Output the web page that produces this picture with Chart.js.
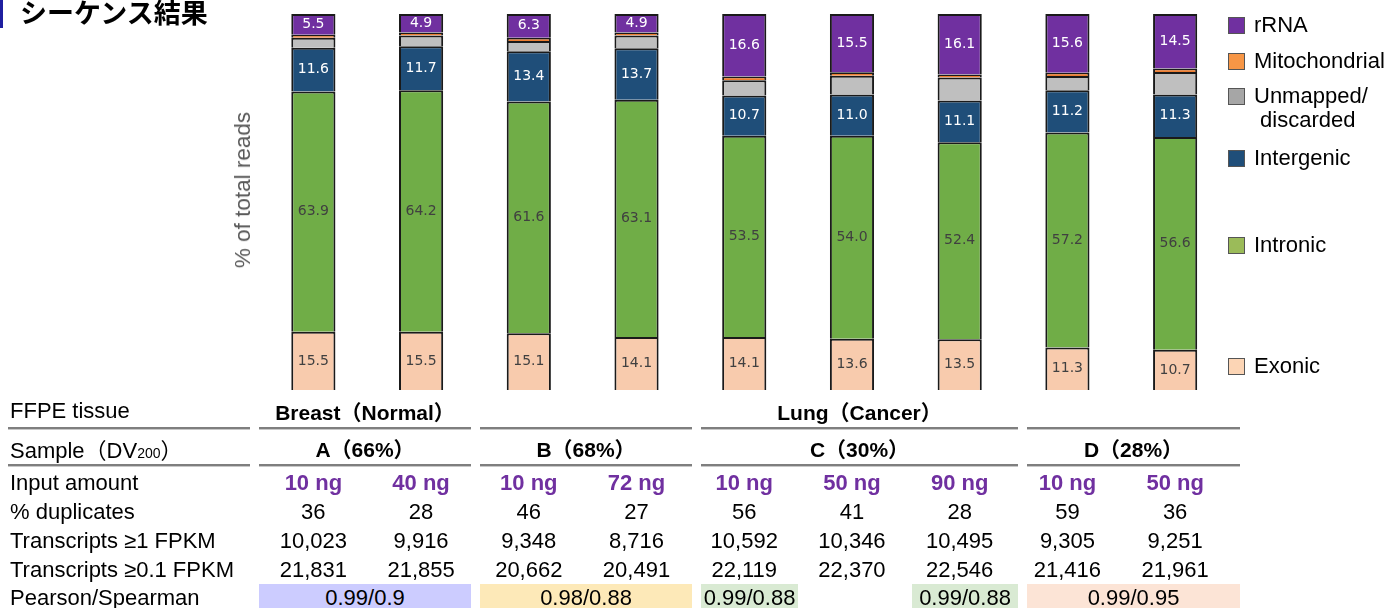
<!DOCTYPE html>
<html>
<head>
<meta charset="utf-8">
<script src="https://cdn.jsdelivr.net/npm/chart.js@4.4.1/dist/chart.umd.min.js"></script>
<style>
  html, body { margin: 0; padding: 0; background: #fff; }
  #wrap { position: relative; width: 1390px; height: 608px; overflow: hidden; font-family: "Liberation Sans", Arial, "Noto Sans CJK JP", sans-serif; }
  #chart { position: absolute; left: 0; top: 0; }
  .t { position: absolute; white-space: nowrap; transform: translate(-50%, -50%); font-size: 22px; color: #000; }
  .l { position: absolute; white-space: nowrap; transform: translateY(-50%); font-size: 22px; color: #000; }
  .b { font-weight: bold; font-size: 21px; }
  .ng { font-weight: bold; color: #7030a0; }
  .line { position: absolute; height: 2px; background: #7f7f7f; border-bottom: 1px solid #c8c8c8; }
  .cell { position: absolute; }
  .sq { position: absolute; width: 15px; height: 15px; border: 1px solid #555; }
</style>
</head>
<body>
<div id="wrap">
  <canvas id="chart" width="1390" height="608"></canvas>
</div>
<script>
// ---- data ----
const samples = ['A 10 ng', 'A 40 ng', 'B 10 ng', 'B 72 ng', 'C 10 ng', 'C 50 ng', 'C 90 ng', 'D 10 ng', 'D 50 ng'];
const exonic       = [15.5, 15.5, 15.1, 14.1, 14.1, 13.6, 13.5, 11.3, 10.7];
const intronic     = [63.9, 64.2, 61.6, 63.1, 53.5, 54.0, 52.4, 57.2, 56.6];
const intergenic   = [11.6, 11.7, 13.4, 13.7, 10.7, 11.0, 11.1, 11.2, 11.3];
const unmapped     = [2.7, 2.9, 2.7, 3.4, 4.1, 5.0, 6.1, 3.8, 6.0];
const mitochondrial = [0.8, 0.8, 0.9, 0.8, 1.0, 0.9, 0.8, 0.9, 0.9];
const rrna         = [5.5, 4.9, 6.3, 4.9, 16.6, 15.5, 16.1, 15.6, 14.5];

const inputAmount  = ['10 ng', '40 ng', '10 ng', '72 ng', '10 ng', '50 ng', '90 ng', '10 ng', '50 ng'];
const duplicates   = ['36', '28', '46', '27', '56', '41', '28', '59', '36'];
const transcripts1 = ['10,023', '9,916', '9,348', '8,716', '10,592', '10,346', '10,495', '9,305', '9,251'];
const transcripts01 = ['21,831', '21,855', '20,662', '20,491', '22,119', '22,370', '22,546', '21,416', '21,961'];
const sampleGroups = ['A（66%）', 'B（68%）', 'C（30%）', 'D（28%）'];
const tissueGroups = ['Breast（Normal）', '', 'Lung（Cancer）', ''];
const pearson      = ['0.99/0.9', '0.98/0.88', '0.99/0.88', '', '0.99/0.88', '0.99/0.95'];
const rowLabels    = ['FFPE tissue', 'Sample（DV<span style="font-size:14px">200</span>）', 'Input amount', '% duplicates', 'Transcripts ≥1 FPKM', 'Transcripts ≥0.1 FPKM', 'Pearson/Spearman'];

// ---- layout / style ----
const groupBox = [[259, 471], [480, 692], [701, 1018], [1027, 1240]];
const pearsonBox = [[259, 471], [480, 692], [701, 798], [798, 912], [912, 1018], [1027, 1240]];
const pearsonColors = ['#ccccff', '#fde9b8', '#d9ead3', 'transparent', '#d9ead3', '#fce4d6'];
const rowY = [411, 448, 483, 512, 541, 570, 598];

const labelPlugin = {
  id: 'segLabels',
  afterDatasetsDraw(chart) {
    const ctx = chart.ctx;
    ctx.save();
    ctx.font = '14px "DejaVu Sans"';
    ctx.textAlign = 'center';
    ctx.textBaseline = 'middle';
    chart.data.datasets.forEach((ds, i) => {
      if (!ds.labelColor) return;
      const meta = chart.getDatasetMeta(i);
      meta.data.forEach((bar, j) => {
        ctx.fillStyle = ds.labelColor;
        ctx.fillText(ds.data[j].toFixed(1), bar.x, (bar.y + bar.base) / 2);
      });
    });
    ctx.restore();
  }
};

const chart = new Chart(document.getElementById('chart'), {
  type: 'bar',
  data: {
    labels: samples,
    datasets: [
      { label: 'Exonic', data: exonic, backgroundColor: '#f8cbad', labelColor: '#404040' },
      { label: 'Intronic', data: intronic, backgroundColor: '#70ad47', labelColor: '#404040' },
      { label: 'Intergenic', data: intergenic, backgroundColor: '#1f4e79', labelColor: '#ffffff' },
      { label: 'Unmapped/discarded', data: unmapped, backgroundColor: '#bfbfbf' },
      { label: 'Mitochondrial', data: mitochondrial, backgroundColor: '#ed7d31' },
      { label: 'rRNA', data: rrna, backgroundColor: '#7030a0', labelColor: '#ffffff' }
    ].map(d => Object.assign(d, { borderColor: '#1a1a1a', borderWidth: 2, barPercentage: 0.41, categoryPercentage: 1 }))
  },
  options: {
    responsive: false,
    animation: false,
    layout: { padding: { left: 259.5, right: 161, top: 14, bottom: 218 } },
    plugins: { legend: { display: false }, tooltip: { enabled: false } },
    scales: {
      x: { stacked: true, display: false },
      y: { stacked: true, display: false, min: 0, max: 100 }
    }
  },
  plugins: [labelPlugin]
});

// ---- overlay text: title, axis title, legend, table ----
const wrap = document.getElementById('wrap');
function add(cls, html, x, y, extra) {
  const d = document.createElement('div');
  d.className = cls;
  d.innerHTML = html;
  d.style.left = x + 'px';
  d.style.top = y + 'px';
  if (extra) Object.assign(d.style, extra);
  wrap.appendChild(d);
  return d;
}

add('cell', '', 0, 0, { width: '3px', height: '28px', background: '#1f1fa0' });
add('l', 'シーケンス結果', 20, 11, { fontFamily: '"Noto Sans CJK JP"', fontWeight: 'bold', fontSize: '27px' });
add('t', '% of total reads', 243, 190, { transform: 'translate(-50%,-50%) rotate(-90deg)', color: '#595959', fontSize: '22.5px' });

const legendItems = [
  ['rRNA', '#7030a0', 25], ['Mitochondrial', '#f79646', 61], ['Unmapped/<br>&nbsp;discarded', '#a6a6a6', 108],
  ['Intergenic', '#1f4e79', 158], ['Intronic', '#9bbb59', 245], ['Exonic', '#fcd5b5', 366]
];
legendItems.forEach(([name, col, y]) => {
  const sqY = name.startsWith('Unmapped') ? 96 : y;
  add('sq', '', 1228, sqY - 8, { background: col });
  add('l', name, 1254, y, { lineHeight: '24px' });
});

const xs = samples.map((_, i) => chart.scales.x.getPixelForValue(i));
rowLabels.forEach((txt, r) => add('l', txt, 10, rowY[r]));

[[8, 250]].concat(groupBox).forEach(([a, b]) => {
  add('line', '', a, 427, { width: (b - a) + 'px' });
  add('line', '', a, 464, { width: (b - a) + 'px' });
});

tissueGroups.forEach((txt, g) => {
  if (!txt) return;
  const [a, b] = groupBox[g];
  add('t b', txt, (a + b) / 2, rowY[0]);
});
sampleGroups.forEach((txt, g) => {
  const [a, b] = groupBox[g];
  add('t b', txt, (a + b) / 2, rowY[1]);
});
[inputAmount, duplicates, transcripts1, transcripts01].forEach((row, r) => {
  row.forEach((txt, i) => add(r === 0 ? 't ng' : 't', txt, xs[i], rowY[r + 2]));
});
pearson.forEach((txt, k) => {
  const [a, b] = pearsonBox[k];
  add('cell', '', a, 584, { width: (b - a) + 'px', height: '26px', background: pearsonColors[k] });
  if (txt) add('t', txt, (a + b) / 2, rowY[6]);
});
</script>
</body>
</html>
